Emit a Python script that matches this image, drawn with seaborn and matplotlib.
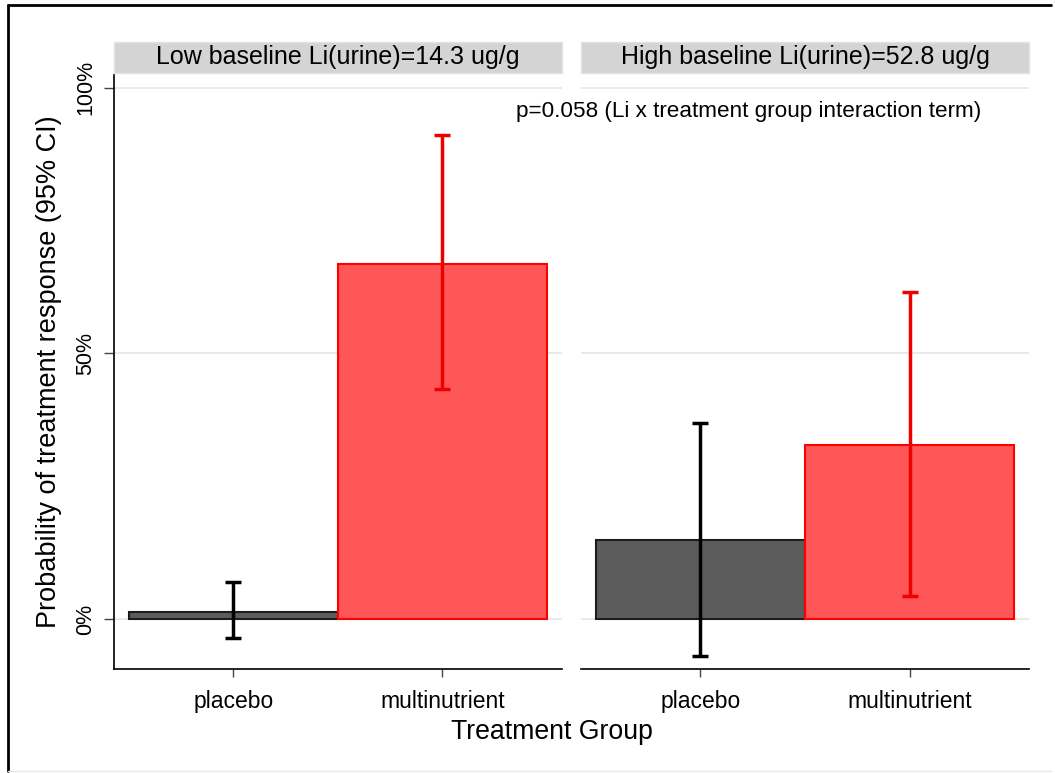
import seaborn as sns
import matplotlib.pyplot as plt
import pandas as pd

groups = ["placebo", "multinutrient"]
panels = ["Low baseline Li(urine)=14.3 ug/g", "High baseline Li(urine)=52.8 ug/g"]
prob_low = [1.3, 66.9]
lo_low = [-3.6, 43.3]
hi_low = [7.0, 91.1]
prob_high = [14.9, 32.8]
lo_high = [-7.0, 4.3]
hi_high = [36.9, 61.6]

fills = ["#5c5c5c", "#ff5757"]
edges = ["#1c1c1c", "#ff0000"]
bar_cols = ["black", "#ee0000"]

sns.set_theme(style="white")
plt.rcParams['font.family'] = ['Liberation Sans', 'DejaVu Sans']
plt.rcParams['text.color'] = 'black'
plt.rcParams['axes.labelcolor'] = 'black'
plt.rcParams['xtick.color'] = 'black'
plt.rcParams['ytick.color'] = 'black'

fig = plt.figure(figsize=(10.55, 7.73), dpi=100)
ax1 = fig.add_axes([0.108, 0.1345, 0.4246, 0.7685])
ax2 = fig.add_axes([0.5507, 0.1345, 0.4246, 0.7685])

data = [(ax1, prob_low, lo_low, hi_low), (ax2, prob_high, lo_high, hi_high)]
for i, (ax, p, lo, hi) in enumerate(data):
    df = pd.DataFrame({"group": groups, "prob": p})
    sns.barplot(data=df, x="group", y="prob", hue="group", palette=fills,
                saturation=1, width=1.0, legend=False, ax=ax, zorder=2)
    for bar, ec in zip(ax.patches, edges):
        bar.set_edgecolor(ec)
        bar.set_linewidth(1.5)
    for j in range(len(groups)):
        ax.errorbar(j, p[j], yerr=[[p[j] - lo[j]], [hi[j] - p[j]]], fmt="none",
                    ecolor=bar_cols[j], elinewidth=2.5, capsize=6, capthick=2.5, zorder=3)
    ax.set_ylim(-9.4, 102.4)
    ax.set_xlim(-0.571, 1.571)
    ax.set_yticks([0, 50, 100])
    ax.yaxis.grid(True, color="#e6e6e6", linewidth=1.2, zorder=0)
    ax.set_axisbelow(True)
    ax.set_xlabel("")
    ax.set_ylabel("")
    ax.tick_params(axis="x", bottom=True, length=6, width=1, color="#444444",
                   labelsize=16.5, pad=9)
    for s in ["top", "right"]:
        ax.spines[s].set_visible(False)
    ax.spines["bottom"].set_color("black")
    ax.spines["bottom"].set_linewidth(1.2)
    # strip header
    pos = ax.get_position()
    fig.patches.append(plt.Rectangle((pos.x0, 0.9056), pos.width, 0.0401,
                                     transform=fig.transFigure, facecolor="#d4d4d4",
                                     edgecolor="#dce6ea", linewidth=1))
    fig.text(pos.x0 + pos.width / 2, 0.9056 + 0.0201, panels[i], ha="center",
             va="center", fontsize=18, color="black")

ax1.set_yticklabels(["0%", "50%", "100%"], rotation=90, va="center", fontsize=15.5)
ax1.tick_params(axis="y", left=True, length=7, width=1, color="#444444", pad=6)
ax1.spines["left"].set_color("black")
ax1.spines["left"].set_linewidth(1.2)
ax1.set_ylabel("Probability of treatment response (95% CI)", fontsize=19.5, labelpad=9)
ax2.spines["left"].set_visible(False)
ax2.set_yticklabels([])
ax2.tick_params(axis="y", left=False)

fig.text(0.523, 0.053, "Treatment Group", ha="center", va="center", fontsize=19.2)
fig.text(0.71, 0.856, "p=0.058 (Li x treatment group interaction term)",
         ha="center", va="center", fontsize=16.2)

# outer frame (Stata-style graph region)
fig.add_artist(plt.Line2D([0.0076, 0.9962], [0.9935, 0.9935], transform=fig.transFigure,
                          color="black", linewidth=2))
fig.add_artist(plt.Line2D([0.0076, 0.0076], [0.0026, 0.9935], transform=fig.transFigure,
                          color="black", linewidth=2))
fig.add_artist(plt.Line2D([0.0076, 0.9962], [0.0026, 0.0026], transform=fig.transFigure,
                          color="#e8e8e8", linewidth=1))

fig.savefig("out.png", dpi=100)
